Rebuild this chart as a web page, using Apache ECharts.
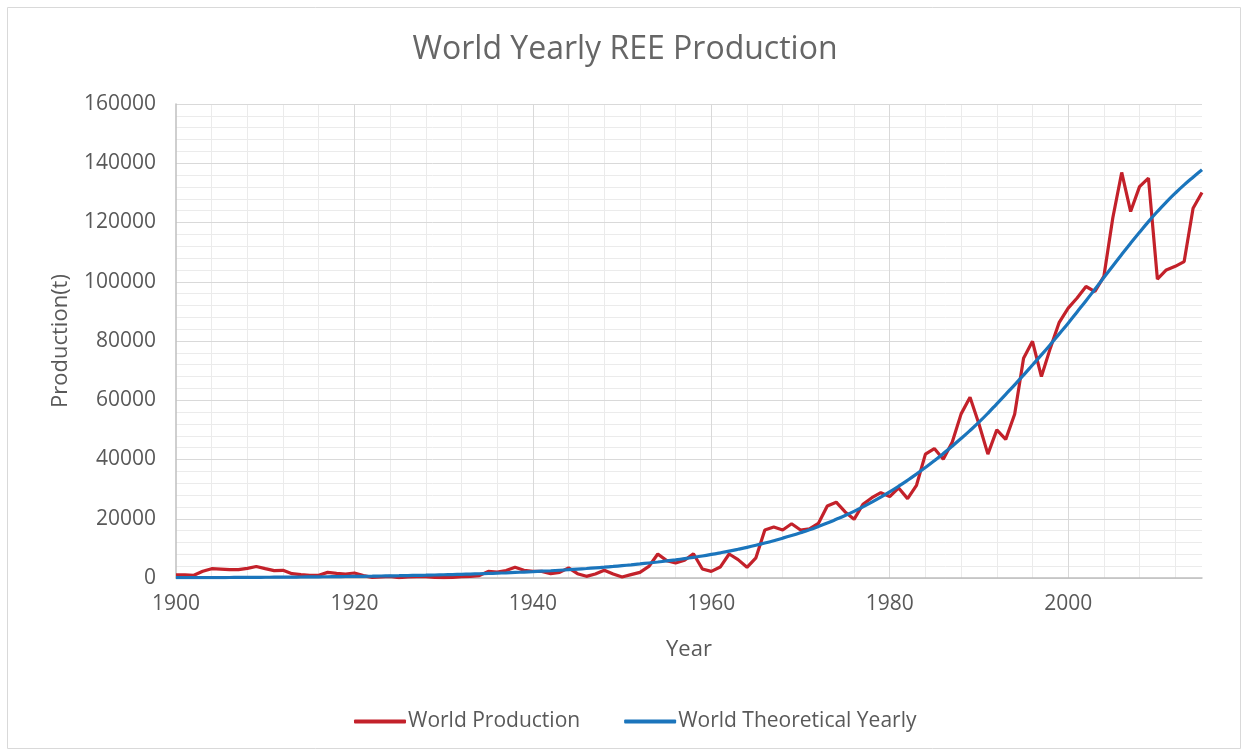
<!DOCTYPE html>
<html>
<head>
<meta charset="utf-8">
<title>World Yearly REE Production</title>
<script src="https://cdn.jsdelivr.net/npm/echarts@6/dist/echarts.min.js"></script>
<style>
  html, body { margin: 0; padding: 0; background: #fff; }
  #chart { width: 1250px; height: 754px; }
</style>
</head>
<body>
<div id="chart"></div>
<script>
// years 1900..2015, one value per year
const startYear = 1900;

const worldProduction = [
  1100, 1100, 900, 2250, 3150, 3000, 2800, 2800, 3260, 3900,
  3150, 2470, 2590, 1460, 1120, 900, 900, 1900, 1570, 1350,
  1690, 800, 220, 340, 560, 110, 340, 450, 450, 220,
  110, 220, 450, 560, 800, 2250, 2000, 2500, 3600, 2600,
  2250, 2250, 1460, 1900, 3400, 1460, 560, 1350, 2600, 1350,
  340, 1130, 1900, 3900, 8100, 5860, 5070, 5970, 8200, 3040,
  2250, 3700, 8100, 6200, 3600, 6800, 16200, 17200, 16200, 18300,
  16200, 16600, 18400, 24300, 25600, 22300, 19800, 24900, 27100, 28800,
  27500, 30400, 26800, 31300, 41800, 43700, 40100, 45800, 55400, 61000,
  52000, 41800, 50000, 46800, 55300, 74200, 79900, 68000, 77600, 86300,
  91100, 94500, 98400, 96700, 101800, 121500, 136900, 123700, 132100, 135000,
  100900, 104000, 105200, 106800, 124800, 130100
];

const worldTheoretical = [
  100, 110, 120, 130, 140, 150, 170, 190, 210, 230,
  250, 270, 290, 310, 340, 370, 400, 430, 460, 500,
  540, 580, 620, 670, 720, 770, 830, 890, 950, 1020,
  1090, 1170, 1250, 1340, 1430, 1530, 1640, 1750, 1870, 2000,
  2140, 2290, 2450, 2620, 2800, 3000, 3200, 3420, 3650, 3900,
  4170, 4450, 4750, 5070, 5400, 5760, 6140, 6550, 6980, 7440,
  7950, 8500, 9080, 9700, 10350, 11050, 11800, 12600, 13450, 14350,
  15300, 16300, 17400, 18550, 19800, 21100, 22500, 24000, 25600, 27300,
  29100, 31000, 33000, 35100, 37300, 39600, 42000, 44500, 47100, 49800,
  52600, 55600, 58800, 62000, 65200, 68500, 71900, 75300, 78800, 82400,
  86000, 89800, 93600, 97500, 101400, 105300, 109200, 113000, 116700, 120300,
  123700, 126900, 129900, 132700, 135300, 137800
];

const toPairs = arr => arr.map((v, i) => [startYear + i, v]);

const textColor = '#595959';
const fontFamily = '"Open Sans", "Noto Sans", sans-serif';

const myChart = echarts.init(document.getElementById('chart'));

const option = {
  animation: false,
  textStyle: { fontFamily: fontFamily },
  graphic: [
    {
      type: 'rect',
      shape: { x: 7.5, y: 7.5, width: 1233, height: 741 },
      style: { fill: 'none', stroke: '#d9d9d9', lineWidth: 1 },
      silent: true
    }
  ],
  title: {
    text: 'World Yearly REE Production',
    left: 'center',
    top: 29,
    textStyle: { color: '#666666', fontSize: 32, fontWeight: 'normal', fontFamily: fontFamily }
  },
  legend: {
    left: 349,
    top: 706,
    itemWidth: 52,
    itemHeight: 4,
    itemGap: 44,
    icon: 'roundRect',
    textStyle: { color: textColor, fontSize: 21, padding: [0, 0, 0, -3] },
    data: ['World Production', 'World Theoretical Yearly']
  },
  grid: {
    left: 176,
    right: 48,
    top: 104,
    bottom: 176,
    containLabel: false
  },
  xAxis: [
    {
      type: 'value',
      min: 1900,
      max: 2015,
      interval: 20,
      z: 3,
      name: 'Year',
      nameLocation: 'middle',
      nameGap: 61,
      nameTextStyle: { color: textColor, fontSize: 22 },
      axisLine: { show: true, lineStyle: { color: '#bfbfbf', width: 1.5 } },
      axisTick: { show: false },
      axisLabel: { color: textColor, fontSize: 21, margin: 16, showMaxLabel: false, formatter: v => String(v) },
      splitLine: { show: true, showMaxLine: false, showMinLine: false, lineStyle: { color: '#d9d9d9', width: 1 } }
    },
    {
      // minor vertical lines every 4 years
      type: 'value',
      min: 1900,
      max: 2015,
      interval: 4,
      z: 0,
      axisLine: { show: false },
      axisTick: { show: false },
      axisLabel: { show: false },
      splitLine: { show: true, showMaxLine: false, showMinLine: false, lineStyle: { color: '#ebebeb', width: 1 } }
    }
  ],
  yAxis: {
    type: 'value',
    min: 0,
    max: 160000,
    interval: 20000,
    z: 2,
    name: 'Production(t)',
    nameLocation: 'middle',
    nameGap: 104,
    nameTextStyle: { color: textColor, fontSize: 22 },
    axisLine: { show: true, lineStyle: { color: '#bfbfbf', width: 1.5 } },
    axisTick: { show: false },
    axisLabel: { color: textColor, fontSize: 21, margin: 20, formatter: v => String(v) },
    splitLine: { show: true, lineStyle: { color: '#d9d9d9', width: 1 } },
    minorTick: { show: false, splitNumber: 5 },
    minorSplitLine: { show: true, lineStyle: { color: '#ebebeb', width: 1 } }
  },
  series: [
    {
      name: 'World Production',
      type: 'line',
      xAxisIndex: 0,
      data: toPairs(worldProduction),
      showSymbol: false,
      symbol: 'none',
      lineStyle: { color: '#c3212a', width: 3.2 },
      itemStyle: { color: '#c3212a' }
    },
    {
      name: 'World Theoretical Yearly',
      type: 'line',
      xAxisIndex: 0,
      data: toPairs(worldTheoretical),
      showSymbol: false,
      symbol: 'none',
      smooth: true,
      lineStyle: { color: '#1b75bc', width: 3.2 },
      itemStyle: { color: '#1b75bc' }
    }
  ]
};

myChart.setOption(option);
window.addEventListener('resize', function () {
  myChart.resize();
});
</script>
</body>
</html>
